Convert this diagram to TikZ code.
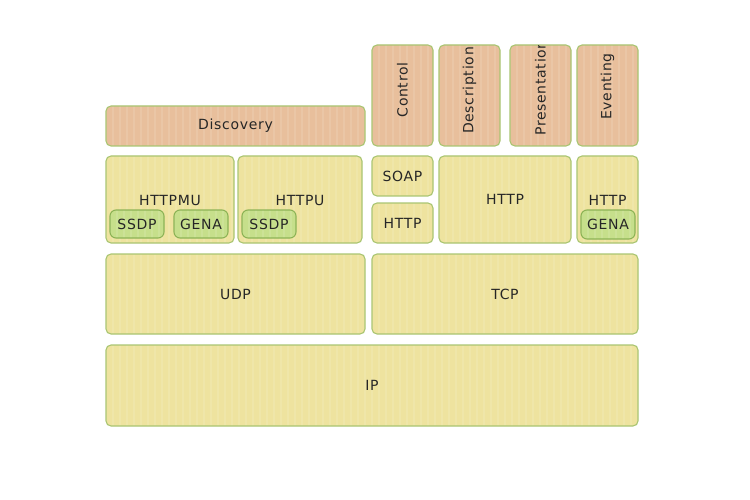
\documentclass[tikz,border=0pt]{standalone}
\usepackage{fontspec}
\setmainfont{DejaVu Sans}[LetterSpace=5]
\definecolor{layerfill}{HTML}{EEE39F}
\definecolor{appfill}{HTML}{E8BF9C}
\definecolor{chipfill}{HTML}{C6DF8B}
\definecolor{edgegreen}{HTML}{A9C571}
\definecolor{chipedge}{HTML}{8DB356}
\begin{document}
\begin{tikzpicture}[x=1pt,y=-1pt,
  stripes/.style={path picture={\foreach \i in {0,7,...,560}
    \draw[white,opacity=0.11,line width=2pt] ([xshift=\i pt]path picture bounding box.north west) -- ([xshift=\i pt]path picture bounding box.south west);}},
  base/.style={rectangle,rounded corners=5pt,line width=1.1pt,draw=edgegreen,inner sep=0pt,stripes},
  layer/.style={base,fill=layerfill},
  app/.style={base,fill=appfill},
  chip/.style={base,fill=chipfill,draw=chipedge,rounded corners=6pt},
  lbl/.style={inner sep=0pt,font=\fontsize{14}{16}\selectfont,text=black!85}]
\useasboundingbox (0,0) rectangle (750,500);
% helper: box from (x1,y1) to (x2,y2)
\newcommand{\bx}[6]{\node[#1,minimum width={#4-#2},minimum height={#5-#3}] (#6) at ({(#2+#4)/2},{(#3+#5)/2}) {};}
% application row
\bx{app}{106}{106}{365}{146}{disc}
\node[lbl] (discl) at (disc.center) {Discovery};
\bx{app}{372}{45}{433}{146}{ctrl}
\bx{app}{439}{45}{500}{146}{desc}
\bx{app}{510}{45}{571}{146}{pres}
\bx{app}{577}{45}{638}{146}{evnt}
\begin{scope}
\clip (372,46) rectangle (433,146);
\node[lbl,rotate=90] (ctrll) at (402.5,90) {Control};
\end{scope}
\begin{scope}
\clip (439,46) rectangle (500,146);
\node[lbl,rotate=90] (descl) at (469.5,90.5) {Description};
\end{scope}
\begin{scope}
\clip (510,46) rectangle (571,146);
\node[lbl,rotate=90] (presl) at (540.5,88) {Presentation};
\end{scope}
\begin{scope}
\clip (577,46) rectangle (638,146);
\node[lbl,rotate=90] (evntl) at (607.5,86.5) {Eventing};
\end{scope}
% second row
\bx{layer}{106}{156}{234}{243}{httpmu}
\node[lbl] (httpmul) at (170,200) {HTTPMU};
\bx{chip}{110}{210}{164}{238}{ssdpa}
\node[lbl] at (ssdpa.center) {SSDP};
\bx{chip}{174}{210}{228}{238}{genaa}
\node[lbl] at (genaa.center) {GENA};
\bx{layer}{238}{156}{362}{243}{httpu}
\node[lbl] (httpul) at (300,200) {HTTPU};
\bx{chip}{242}{210}{296}{238}{ssdpb}
\node[lbl] at (ssdpb.center) {SSDP};
\bx{layer}{372}{156}{433}{196}{soap}
\node[lbl] at (soap.center) {SOAP};
\bx{layer}{372}{203}{433}{243}{httpa}
\node[lbl] at (httpa.center) {HTTP};
\bx{layer}{439}{156}{571}{243}{httpb}
\node[lbl] at (httpb.center) {HTTP};
\bx{layer}{577}{156}{638}{243}{httpc}
\node[lbl] at (607.5,200) {HTTP};
\bx{chip}{581}{210}{635}{239}{genab}
\node[lbl] at (genab.center) {GENA};
% transport
\bx{layer}{106}{254}{365}{334}{udp}
\node[lbl] at (udp.center) {UDP};
\bx{layer}{372}{254}{638}{334}{tcp}
\node[lbl] at (tcp.center) {TCP};
% network
\bx{layer}{106}{345}{638}{426}{ip}
\node[lbl] at (ip.center) {IP};
\end{tikzpicture}
\end{document}
